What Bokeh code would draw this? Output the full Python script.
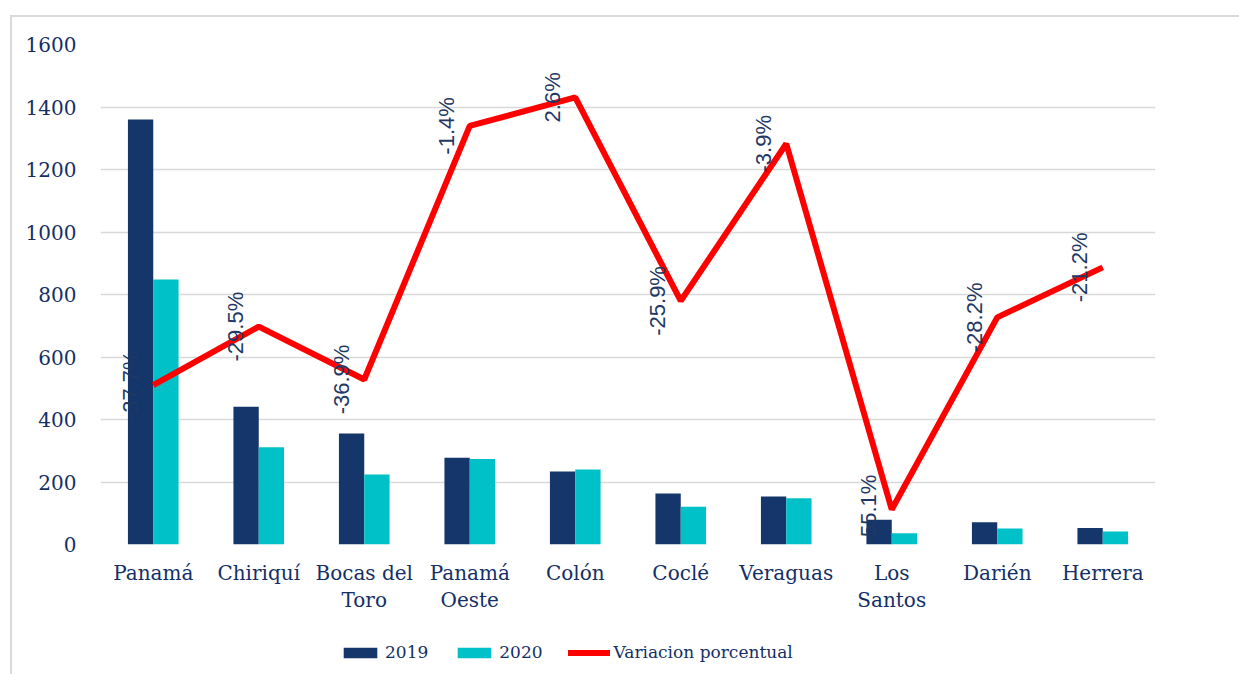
import math
from bokeh.plotting import figure
from bokeh.layouts import column
from bokeh.models import (ColumnDataSource, FactorRange, Range1d, Legend, LegendItem,
                          FixedTicker, CategoricalAxis, CustomJSTickFormatter)
from bokeh.transform import dodge
from bokeh.core.properties import value
from bokeh.embed import file_html
from bokeh.resources import INLINE

categories = ["Panamá", "Chiriquí", "Bocas del Toro", "Panamá Oeste", "Colón",
              "Coclé", "Veraguas", "Los Santos", "Darién", "Herrera"]
label_line1 = ["Panamá", "Chiriquí", "Bocas del", "Panamá", "Colón",
               "Coclé", "Veraguas", "Los", "Darién", "Herrera"]
label_line2 = ["", "", "Toro", "Oeste", "", "", "", "Santos", "", ""]
v2019 = [1360, 441, 355, 278, 234, 163, 154, 79, 71, 53]
v2020 = [848, 311, 224, 274, 240, 121, 148, 36, 51, 42]
pct = [-37.7, -29.5, -36.9, -1.4, 2.6, -25.9, -3.9, -55.1, -28.2, -21.2]
y_ticks = [0, 200, 400, 600, 800, 1000, 1200, 1400, 1600]
series_names = ["2019", "2020", "Variacion porcentual"]

pct_labels = [f"{v:.1f}%" for v in pct]

NAVY = "#15366A"
CYAN = "#00C1C8"
RED = "#FF0000"
TEXT = "#142F66"
GRID = "#D9D9D9"

src = ColumnDataSource(dict(cat=categories, v2019=v2019, v2020=v2020,
                            pct=pct, lab=pct_labels))

p = figure(x_range=FactorRange(*categories), y_range=Range1d(0, 1600),
           frame_width=1055, frame_height=500,
           output_backend="svg", toolbar_location=None,
           min_border_left=88, min_border_top=27, min_border_right=84,
           min_border_bottom=80, x_axis_location=None)
p.extra_y_ranges = {"pct": Range1d(-60, 10)}
p.outline_line_color = None

p.vbar(x=dodge("cat", -0.12, range=p.x_range), top="v2019", width=0.24,
       source=src, fill_color=NAVY, line_color=None)
p.vbar(x=dodge("cat", 0.12, range=p.x_range), top="v2020", width=0.24,
       source=src, fill_color=CYAN, line_color=None)
p.line(x="cat", y="pct", source=src, y_range_name="pct",
       line_color=RED, line_width=6)
p.text(x="cat", y="pct", text="lab", source=src, y_range_name="pct",
       angle=math.pi / 2, text_align="center", text_baseline="alphabetic",
       x_offset=-23, text_font=value("Liberation Sans"), text_font_size="22px",
       text_color="#1F3864")

p.xgrid.grid_line_color = None
p.ygrid.grid_line_color = GRID
p.ygrid.grid_line_width = 1.5

p.yaxis.ticker = FixedTicker(ticks=y_ticks)

js = "const i = cats.indexOf(tick); return i >= 0 ? lines[i] : tick;"
ax1 = CategoricalAxis(formatter=CustomJSTickFormatter(
                          args=dict(cats=categories, lines=label_line1), code=js),
                      major_label_standoff=10)
ax2 = CategoricalAxis(formatter=CustomJSTickFormatter(
                          args=dict(cats=categories,
                                    lines=[t if t else " " for t in label_line2]),
                          code=js),
                      major_label_standoff=-6)
p.add_layout(ax1, "below")
p.add_layout(ax2, "below")

for ax in (ax1, ax2, p.yaxis[0]):
    ax.axis_line_color = None
    ax.major_tick_line_color = None
    ax.minor_tick_line_color = None
    ax.major_label_text_font = "DejaVu Serif"
    ax.major_label_text_font_size = "20px"
    ax.major_label_text_color = TEXT
p.yaxis.major_label_standoff = 18

# legend strip below the chart; its renderers carry the series styles and sit
# outside the strip's visible range, so only their legend swatches show
lf = figure(width=1227, height=50, x_range=Range1d(0, 1), y_range=Range1d(0, 1),
            output_backend="svg", toolbar_location=None, min_border=0,
            x_axis_location=None, y_axis_location=None)
lf.outline_line_color = None
lf.grid.grid_line_color = None
r1 = lf.vbar(x=[-10], top=[-10], width=0.1, fill_color=NAVY, line_color=None)
r2 = lf.vbar(x=[-10], top=[-10], width=0.1, fill_color=CYAN, line_color=None)
r3 = lf.line(x=[-10, -9], y=[-10, -9], line_color=RED, line_width=6,
             line_cap="round")
legend = Legend(items=[LegendItem(label=series_names[0], renderers=[r1]),
                       LegendItem(label=series_names[1], renderers=[r2]),
                       LegendItem(label=series_names[2], renderers=[r3])],
                orientation="horizontal", location=(239, 12),
                glyph_width=42, glyph_height=13, label_standoff=4, spacing=25,
                padding=0, margin=0, border_line_color=None,
                background_fill_alpha=0,
                label_text_font="DejaVu Serif", label_text_font_size="17px",
                label_text_color=TEXT)
lf.add_layout(legend, "center")

layout = column(p, lf, spacing=0)
layout.styles = {"margin-left": "10px", "margin-top": "15px",
                 "border-top": f"2px solid {GRID}", "border-left": f"2px solid {GRID}"}

open("out.html", "w").write(file_html(layout, INLINE))
